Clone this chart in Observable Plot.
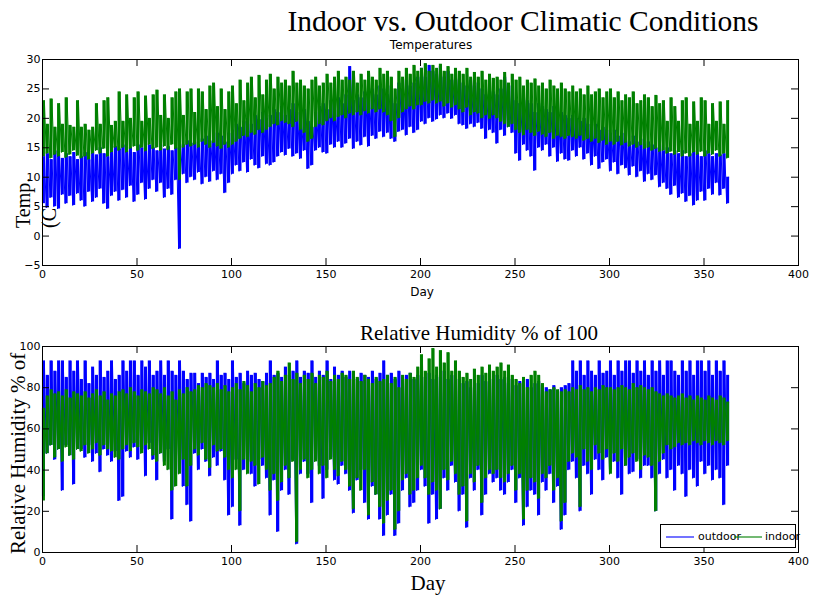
<!DOCTYPE html>
<html><head><meta charset="utf-8">
<script src="https://cdn.jsdelivr.net/npm/d3@7"></script>
<script src="https://cdn.jsdelivr.net/npm/@observablehq/plot@0.6"></script>
<style>
body{margin:0;background:#fff;}
#wrap{position:relative;width:815px;height:598px;overflow:hidden;background:#fff;}
.abs{position:absolute;white-space:nowrap;line-height:1;}
.serif{font-family:"Liberation Serif","Times New Roman",serif;color:#000;}
.sans{font-family:"DejaVu Sans",sans-serif;color:#000;}
.ctr{transform:translateX(-50%);}
.rot{transform-origin:0 0;transform:rotate(-90deg);}
#wrap svg{position:absolute;left:0;}
</style></head><body>
<div id="wrap"></div>
<script>
// ---- data ----
const dayStep = 2; // one low/high pair every 2 days, days 0..362
const xTicks = [0, 50, 100, 150, 200, 250, 300, 350, 400];
const tempTicks = [-5, 0, 5, 10, 15, 20, 25, 30];
const humTicks = [0, 20, 40, 60, 80, 100];

const tempOutLow = [
5.5,4.8,6.5,5.0,4.6,7.0,5.5,6.8,5.2,7.2,
6.0,5.0,7.5,5.8,6.5,8.0,5.5,4.6,6.8,7.5,
6.0,7.8,6.5,8.5,5.8,7.0,9.0,6.2,8.0,9.5,
7.5,9.0,6.5,8.0,7.0,9.5,-2.2,10.5,9.0,10.0,
9.5,10.8,8.8,10.0,9.2,11.0,9.5,10.5,7.3,9.0,
10.5,12.0,11.0,12.5,10.8,13.0,12.0,11.5,13.5,12.2,
12.0,12.5,13.5,14.2,13.7,14.8,13.5,14.0,13.1,14.5,
11.4,12.0,14.5,15.0,14.2,14.0,15.5,15.0,16.0,15.0,
15.7,16.5,14.8,16.0,15.4,16.8,15.2,17.0,16.5,17.7,
16.8,17.5,16.5,16.0,17.7,18.0,17.1,18.5,17.5,18.0,
19.4,19.0,20.0,19.4,19.8,20.5,20.0,20.8,19.9,20.5,
19.0,18.8,18.2,19.0,18.5,19.2,18.2,16.5,18.0,17.5,
15.7,18.0,17.0,18.5,17.5,14.0,12.8,15.5,14.5,13.5,
11.1,15.0,14.5,15.5,13.5,15.0,12.6,14.0,13.0,12.8,
14.5,13.5,15.0,13.0,14.0,12.0,13.5,11.4,12.5,13.0,
11.0,12.5,10.5,12.0,11.5,10.3,11.8,10.0,11.0,9.2,
10.5,9.5,10.3,8.3,9.0,8.0,7.0,8.5,6.5,7.2,
5.8,6.8,5.2,6.0,7.5,6.0,8.0,7.0,9.0,6.9,
8.0,5.5];
const tempOutHigh = [
13.5,14.0,13.0,14.5,13.8,13.2,14.0,13.5,14.2,13.0,
13.5,14.2,13.0,14.5,13.8,15.0,14.0,13.5,14.5,15.2,
14.8,15.5,14.5,15.0,14.2,15.5,15.0,14.8,15.5,15.0,
14.5,15.5,14.8,15.2,14.5,15.0,16.0,15.5,16.2,15.8,
16.0,15.5,16.5,17.0,16.2,18.0,17.5,17.0,16.0,17.5,
18.0,19.0,18.5,19.5,20.0,19.0,20.5,19.8,21.0,20.0,
20.5,21.5,21.0,22.0,20.5,21.5,22.5,21.0,20.0,21.5,
19.5,18.5,21.0,22.0,22.5,21.5,23.0,22.0,23.5,22.5,
24.0,28.8,23.0,24.0,23.5,24.5,23.5,25.0,24.0,25.5,
25.0,24.0,25.5,22.5,26.0,25.0,26.5,25.5,26.0,27.0,
28.5,27.0,29.0,28.0,27.5,28.8,27.0,28.0,26.5,27.5,
26.5,26.0,25.5,26.5,25.5,26.0,25.0,24.0,25.0,24.5,
24.0,25.0,27.0,24.5,25.5,23.0,22.5,24.0,23.0,22.5,
21.0,22.5,22.0,21.5,21.0,22.0,20.5,21.0,20.5,20.0,
20.5,20.0,19.5,20.0,19.0,18.5,19.0,18.0,18.5,18.0,
17.5,18.0,17.0,17.5,16.5,16.0,17.0,16.0,16.5,15.5,
16.0,15.5,15.0,15.5,14.5,15.0,14.0,14.5,14.0,14.5,
13.5,14.0,14.5,14.0,13.5,14.5,14.0,13.5,14.0,13.8,
14.0,10.0];
const tempInLow = [
13.5,14.0,13.2,13.8,13.5,14.2,13.3,13.8,14.5,13.6,
13.2,13.5,13.0,14.0,14.5,14.0,14.8,13.5,14.2,15.0,
14.5,15.0,14.2,14.8,15.2,14.5,15.0,14.4,15.5,14.8,
15.0,14.5,15.2,14.6,15.5,14.8,9.5,15.0,15.5,15.2,
15.5,15.0,16.0,15.5,15.0,15.8,15.2,14.8,15.5,15.0,
15.5,16.0,16.5,17.0,16.8,17.5,17.2,18.0,17.5,18.0,
18.5,19.0,18.8,19.5,19.2,19.0,18.5,19.4,18.0,17.5,
16.0,16.5,18.5,19.0,18.8,19.5,20.0,19.5,20.2,20.5,
20.0,20.8,20.5,21.0,20.5,21.2,20.8,21.5,21.0,21.5,
21.0,20.5,19.5,16.8,20.0,21.0,21.5,22.0,21.5,22.2,
22.2,22.8,22.5,23.0,22.5,22.8,22.0,22.5,21.8,22.2,
21.5,21.0,21.8,20.5,21.0,20.8,20.0,20.5,19.9,20.5,
20.0,19.4,19.0,18.5,19.0,18.0,17.5,17.1,18.0,17.5,
17.0,17.7,17.2,16.8,17.5,16.5,17.0,16.8,16.5,17.0,
16.8,16.5,17.0,16.2,16.5,16.0,16.5,15.8,16.2,15.5,
16.0,15.5,16.0,15.4,15.8,15.2,15.5,15.0,15.4,14.8,
15.0,14.5,14.8,14.3,14.5,14.0,14.3,13.8,14.2,13.5,
14.0,13.5,14.2,13.8,14.3,13.5,14.0,13.8,14.5,13.5,
14.0,13.2];
const tempInHigh = [
23.0,19.0,23.3,18.5,22.5,19.0,23.5,18.8,18.5,23.0,
18.5,19.0,18.0,18.5,22.5,19.0,23.0,23.5,18.8,19.5,
24.5,19.5,24.0,20.0,23.5,24.5,19.5,23.8,20.0,24.0,
24.8,20.5,24.0,20.0,23.5,24.5,25.0,20.5,24.5,25.0,
21.0,25.0,24.5,21.5,25.5,26.0,22.0,25.0,21.5,24.5,
25.5,22.5,26.5,23.0,26.0,27.0,23.5,27.3,24.0,26.5,
27.5,25.0,27.0,26.0,26.5,25.5,28.0,26.0,26.5,25.5,
25.0,26.5,27.0,25.5,26.0,27.5,26.0,27.0,28.0,26.5,
27.0,26.5,28.0,26.0,27.5,26.5,28.0,27.0,26.5,28.5,
27.5,28.0,27.0,25.0,28.0,27.0,28.5,27.5,29.0,28.0,
28.5,29.3,28.0,29.0,28.5,29.2,28.0,28.8,27.5,28.5,
28.0,27.5,28.5,27.0,27.8,27.0,28.0,26.5,27.5,26.8,
27.0,26.5,27.8,26.0,27.5,26.5,27.0,25.5,26.5,26.0,
26.7,25.5,26.0,25.0,26.5,25.5,25.0,26.0,25.0,24.5,
25.5,24.5,25.0,24.0,25.5,24.0,24.5,25.0,23.5,24.5,
25.0,23.5,24.5,23.0,24.0,23.5,24.5,22.5,23.0,24.0,
23.5,22.0,23.9,22.5,23.0,19.5,23.5,22.0,19.5,23.0,
23.5,19.0,22.8,19.5,23.5,23.0,19.0,22.5,19.5,22.8,
19.0,23.0];

const humOutLow = [
27,48,52,45,50,30,52,47,33,50,
50,46,52,44,48,39,50,47,44,49,
25,27,49,46,51,45,50,37,53,45,
35,48,44,50,16,38,45,32,23,15,
48,40,50,44,37,46,42,49,35,18,
22,45,13,40,44,38,32,45,42,36,
18,35,10,30,40,28,45,4,38,44,
38,24,45,42,26,40,46,35,33,42,
38,30,19,35,40,24,16,32,28,16,
8,18,28,8,14,30,36,22,24,30,
40,32,14,28,16,21,36,30,42,34,
20,28,12,36,30,40,18,28,38,34,
36,30,28,34,40,24,36,13,22,30,
28,18,34,30,38,24,32,11,18,40,
44,36,20,42,38,28,45,40,35,46,
40,44,36,28,42,38,39,45,36,42,
42,36,20,38,45,36,40,30,42,38,
27,40,36,32,44,38,42,35,40,36,
23,42];
const humOutHigh = [
93,86,93,88,93,93,85,93,88,93,
84,93,82,90,86,93,85,88,93,84,
86,93,88,93,93,86,93,90,93,86,
88,93,86,93,88,86,93,88,84,87,
87,82,87,85,87,84,93,86,87,84,
93,85,87,82,88,86,87,84,83,87,
93,86,87,85,90,86,88,93,85,88,
87,93,85,88,86,93,84,90,86,88,
85,88,87,84,87,86,85,88,84,87,
93,86,87,84,88,85,86,87,84,86,
88,85,87,84,86,85,88,84,86,85,
84,82,83,80,84,82,86,83,85,84,
86,84,85,82,84,81,83,82,84,80,
82,83,81,80,79,81,78,80,81,82,
93,88,93,86,93,88,86,93,87,88,
93,86,93,88,93,93,87,93,88,93,
86,93,88,93,86,93,93,88,86,93,
88,93,86,93,93,88,93,86,93,88,
93,86];
const humInLow = [
25,48,52,46,50,44,51,47,45,50,
49,52,48,50,53,47,52,50,49,46,
45,50,52,49,53,51,48,52,50,47,
44,48,42,40,30,32,38,45,32,42,
50,47,53,45,41,52,49,50,46,40,
36,40,20,45,38,44,42,33,46,40,
30,38,25,34,42,36,44,5,40,45,
36,40,44,38,42,36,45,40,37,44,
40,32,21,36,30,40,18,34,28,22,
14,25,30,11,20,35,38,28,30,36,
42,36,28,34,30,21,40,35,44,38,
28,32,15,38,34,42,24,36,40,38,
40,36,34,38,42,30,38,16,30,36,
34,26,38,36,42,30,36,15,24,44,
48,46,22,50,44,40,52,48,45,50,
38,48,44,50,42,46,48,44,40,47,
46,42,20,44,48,52,50,51,53,52,
53,52,54,53,52,54,53,52,54,53,
52,54];
const humInHigh = [
70,76,79,77,78,76,79,75,78,77,
76,78,75,77,79,76,78,74,77,76,
78,79,77,80,78,76,79,78,77,80,
79,77,80,76,78,74,79,77,80,78,
79,81,80,82,81,80,82,79,81,78,
80,82,79,83,81,78,82,80,83,81,
82,85,88,83,86,92,84,87,82,86,
84,87,82,86,85,88,83,86,84,87,
86,84,88,85,83,86,84,82,85,83,
84,86,82,85,80,86,84,87,85,90,
96,88,94,99,90,98,92,97,88,93,
88,85,87,84,89,86,90,87,91,88,
90,92,88,91,86,84,82,85,80,86,
88,86,82,78,79,80,79,78,79,78,
80,79,81,79,80,78,80,79,81,80,
80,79,80,81,80,79,82,80,81,80,
79,80,78,77,76,77,76,75,76,77,
75,76,74,76,75,74,76,75,74,76,
75,73];

// ---- helpers ----
function zigzag(lo, hi) {
  const pts = [];
  lo.forEach((v, i) => {
    pts.push({day: i * dayStep, v});
    pts.push({day: i * dayStep + 1, v: hi[i]});
  });
  return pts;
}
function ranges(lo, hi) {
  return lo.map((v, i) => ({day: i * dayStep + 0.5, lo: v, hi: hi[i]}));
}
const BLUE = "#0000ff", GREEN = "#008000";
const W = 815, ML = 42, MR = 17, FH = 206, FW = W - ML - MR, TICK = 7;
const font = {fontFamily: "'DejaVu Sans', sans-serif", fontSize: 11};

function series(lo, hi, color) {
  return [
    Plot.ruleX(ranges(lo, hi), {x: "day", y1: "lo", y2: "hi", stroke: color, strokeWidth: 3}),
    Plot.line(zigzag(lo, hi), {x: "day", y: "v", stroke: color, strokeWidth: 1})
  ];
}

function panel(yTicks, yDomain, outLo, outHi, inLo, inHi, height, mt, mb) {
  return Plot.plot({
    width: W, height, marginLeft: ML, marginRight: MR, marginTop: mt, marginBottom: mb,
    style: {background: "transparent", overflow: "visible", color: "black"},
    x: {domain: [0, 400], axis: null},
    y: {domain: yDomain, axis: null},
    marks: [
      ...series(outLo, outHi, BLUE),
      ...series(inLo, inHi, GREEN),
      Plot.frame({stroke: "black", strokeWidth: 1}),
      Plot.tickX(xTicks, {x: d => d, stroke: "black", insetTop: FH - TICK}),
      Plot.tickX(xTicks, {x: d => d, stroke: "black", insetBottom: FH - TICK}),
      Plot.tickY(yTicks, {y: d => d, stroke: "black", insetRight: FW - TICK}),
      Plot.tickY(yTicks, {y: d => d, stroke: "black", insetLeft: FW - TICK}),
      Plot.axisX(xTicks, {anchor: "bottom", tickSize: 0, tickPadding: 5, label: null, ...font}),
      Plot.axisY(yTicks, {anchor: "left", tickSize: 0, tickPadding: 2, label: null, ...font})
    ]
  });
}

const wrap = document.getElementById("wrap");
const top1 = panel(tempTicks, [-5, 30], tempOutLow, tempOutHigh, tempInLow, tempInHigh, 300, 59, 35);
top1.style.top = "0px";
wrap.appendChild(top1);
const bot = panel(humTicks, [0, 100], humOutLow, humOutHigh, humInLow, humInHigh, 298, 46, 46);
bot.style.top = "300px";
wrap.appendChild(bot);

function label(text, cls, css) {
  const d = document.createElement("div");
  d.className = "abs " + cls;
  d.textContent = text;
  Object.assign(d.style, css);
  wrap.appendChild(d);
  return d;
}
label("Indoor vs. Outdoor Climatic Conditions", "serif ctr", {left: "523px", top: "7px", fontSize: "29.5px"});
label("Temperatures", "sans ctr", {left: "431px", top: "39px", fontSize: "12px"});
label("Day", "sans ctr", {left: "422px", top: "286px", fontSize: "12px"});
label("Temp.", "serif rot", {left: "13px", top: "228px", fontSize: "20px"});
label("(C", "serif rot", {left: "39px", top: "228px", fontSize: "20px"});
label("Relative Humidity % of 100", "serif ctr", {left: "479px", top: "323px", fontSize: "21px"});
label("Relative Humidity % of", "serif rot", {left: "8px", top: "554px", fontSize: "21px"});
label("Day", "serif ctr", {left: "428px", top: "573px", fontSize: "21px"});

// legend
const lg = document.createElement("div");
Object.assign(lg.style, {position: "absolute", left: "660px", top: "524px", width: "134px", height: "22px",
  border: "1px solid black", background: "white", overflow: "visible"});
wrap.appendChild(lg);
const legendItems = [{name: "outdoor", color: BLUE, x: 5, tx: 37}, {name: "indoor", color: GREEN, x: 73, tx: 104}];
legendItems.forEach(s => {
  const ln = document.createElement("div");
  Object.assign(ln.style, {position: "absolute", left: s.x + "px", top: "11px", width: "28px", height: "2px",
    background: s.color, opacity: 0.55});
  lg.appendChild(ln);
  const t = document.createElement("div");
  t.className = "abs sans";
  t.textContent = s.name;
  Object.assign(t.style, {left: s.tx + "px", top: "6px", fontSize: "11px"});
  lg.appendChild(t);
});
</script>
</body></html>
